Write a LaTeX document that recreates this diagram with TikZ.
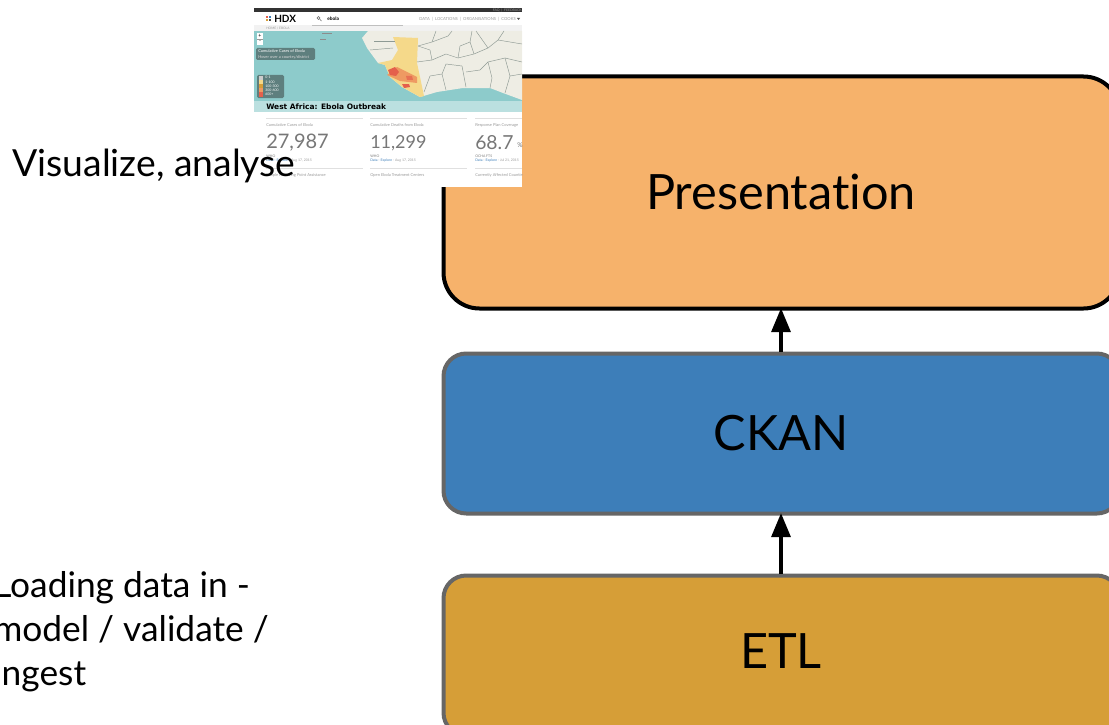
\documentclass[tikz,border=0pt]{standalone}
\usepackage{fontspec}
\setmainfont[Ligatures=NoCommon]{Lato}
\newfontfamily\wideface{DejaVu Sans}
\usetikzlibrary{arrows.meta}
\definecolor{prescol}{HTML}{F6B26B}
\definecolor{ckancol}{HTML}{3D7EB9}
\definecolor{etlcol}{HTML}{D69E37}
\definecolor{edgecol}{HTML}{666666}
\definecolor{seacol}{HTML}{8DCBCB}
\definecolor{stripcol}{HTML}{BBE0E0}
\definecolor{landcol}{HTML}{EEEDE4}
\definecolor{borderc}{HTML}{8E9A94}
\definecolor{yell}{HTML}{F5D98A}
\definecolor{oran}{HTML}{EE9A62}
\definecolor{redd}{HTML}{E4604C}
\definecolor{paneld}{HTML}{5E7F7E}
\definecolor{txtg}{HTML}{999999}
\definecolor{numg}{HTML}{777777}
\tikzset{
  x=0.75pt,y=-0.75pt,
  tierbox/.style={rectangle,draw=edgecol,line width=3pt,minimum width=676*0.75pt,inner sep=0pt,anchor=north west},
  tierlabel/.style={inner sep=0pt,font=\fontsize{36.5}{44}\selectfont},
  flowarrow/.style={draw=black,line width=3pt,-{Triangle[length=18pt,width=14pt]}},
  sidetext/.style={anchor=west,align=left,inner sep=0pt},
  shot/.style={inner sep=0pt,text=txtg,font=\fontsize{3}{3.5}\selectfont},
  bignum/.style={inner sep=0pt,anchor=west,text=numg},
  ruleln/.style={draw=black!12,line width=0.4pt},
  cborder/.style={draw=borderc,line width=0.35pt}
}
\begin{document}
\begin{tikzpicture}
\useasboundingbox (0,0) rectangle (1109,724);
\begin{scope}
\clip (0,0) rectangle (1109,724);
% tiers
\node[tierbox,draw=black,fill=prescol,rounded corners=27pt,minimum height=232*0.75pt] (pres) at (441.5,74.5) {};
\node[tierbox,fill=ckancol,rounded corners=17pt,minimum height=160*0.75pt] (ckan) at (441.5,351.5) {};
\node[tierbox,fill=etlcol,rounded corners=17pt,minimum height=160*0.75pt] (etl) at (441.5,573.5) {};
\node[tierlabel] (prestxt) at (781,192) {Presentation};
\node[tierlabel] (ckantxt) at (781,433) {CKAN};
\node[tierlabel] (etltxt) at (781,651) {ETL};
\coordinate (ckantop) at (781,352);
\coordinate (prestip) at (781,308);
\coordinate (etltop) at (781,574);
\coordinate (ckantip) at (781,513);
\draw[flowarrow] (ckantop) -- (prestip);
\draw[flowarrow] (etltop) -- (ckantip);
% screenshot
\begin{scope}
\clip (254,8) rectangle (522,187);
\fill[white] (254,8) rectangle (522,187);
\fill[black!80] (254,8) rectangle (522,12);
\fill[black!5] (254,25) rectangle (522,31);
\fill[seacol] (254,31) rectangle (522,101);
% land
\fill[landcol] (368,31) -- (362,38) -- (367,48) -- (378,63) -- (385,65) -- (390,77) -- (402,87) -- (420,97) -- (437,92) -- (463,88) -- (490,88) -- (503,93) -- (522,100) -- (522,31) -- cycle;
\fill[black!45] (322,33) rectangle (332,34);
\fill[black!45] (320,39) rectangle (326,40);
% countries coloured
\fill[yell] (393,37) -- (418,38) -- (417,63) -- (420,77) -- (424,96) -- (420,97) -- (402,87) -- (390,77) -- (385,65) -- (378,63) -- (392,60) -- (398,50) -- cycle;
\fill[oran] (387,75) -- (397,67) -- (417,77) -- (417,83) -- (400,81) -- cycle;
\fill[redd] (388,70) -- (395,67) -- (399,72) -- (396,76) -- (390,75) -- cycle;
\fill[redd] (402,84) -- (409,84) -- (410,87) -- (404,88) -- cycle;
\fill[redd!70!oran] (406,76) -- (412,76) -- (413,80) -- (407,80) -- cycle;
% borders
\draw[cborder] (418,46) -- (432,42) -- (448,36) -- (452,31);
\draw[cborder] (417,62) -- (432,60) -- (446,54) -- (458,58) -- (474,54) -- (488,48) -- (498,40) -- (504,31);
\draw[cborder] (424,92) -- (430,76) -- (442,74) -- (446,90);
\draw[cborder] (442,74) -- (446,64) -- (462,66) -- (466,87);
\draw[cborder] (466,72) -- (480,70) -- (488,62) -- (492,78) -- (490,88);
\draw[cborder] (488,62) -- (505,58) -- (522,62);
\draw[cborder] (505,58) -- (510,76) -- (505,93);
\draw[cborder] (474,54) -- (470,42) -- (472,31);
\draw[cborder] (498,40) -- (522,44);
\draw[cborder] (510,76) -- (522,74);
\draw[cborder] (432,60) -- (430,50) -- (418,46);
\draw[cborder] (432,42) -- (436,31);
\draw[cborder] (488,48) -- (476,31);
\draw[cborder] (370,50) -- (393,48);
\draw[cborder] (374,41) -- (395,41);
\draw[cborder] (458,58) -- (460,46) -- (470,42);
% map overlays
\fill[white] (257,33) rectangle (263,45);
\draw[black!40,line width=0.3pt] (257,39) -- (263,39);
\node[shot,text=black,font=\fontsize{4}{4}\selectfont] (plus) at (260,36) {+};
\node[shot,text=black,font=\fontsize{4}{4}\selectfont] (minus) at (260,42) {-};
\fill[paneld,rounded corners=1pt] (256,48) rectangle (315,60);
\node[shot,text=white,anchor=west] (p1) at (258,51.5) {Cumulative Cases of Ebola};
\node[shot,text=white!85!black,anchor=west] (p2) at (258,57) {Hover over a country/district};
\fill[paneld,rounded corners=1pt] (257,75) rectangle (284,98);
\fill[black!20] (259,76) rectangle (263,80);
\fill[yell] (259,80) rectangle (263,84);
\fill[etlcol] (259,84) rectangle (263,88);
\fill[oran] (259,88) rectangle (263,92);
\fill[redd] (259,92) rectangle (263,97);
\node[shot,text=white,anchor=west,font=\fontsize{2.6}{3}\selectfont] (l1) at (265,77.5) {0-1};
\node[shot,text=white,anchor=west,font=\fontsize{2.6}{3}\selectfont] (l2) at (265,82) {1-100};
\node[shot,text=white,anchor=west,font=\fontsize{2.6}{3}\selectfont] (l3) at (265,86) {100-300};
\node[shot,text=white,anchor=west,font=\fontsize{2.6}{3}\selectfont] (l4) at (265,90) {300-600};
\node[shot,text=white,anchor=west,font=\fontsize{2.6}{3}\selectfont] (l5) at (265,94.5) {600+};
% strip
\fill[stripcol] (254,101) rectangle (522,112);
\node[shot,anchor=west,text=black,font=\wideface\fontsize{5.6}{7}\bfseries\selectfont] (title) at (266,106.5) {West Africa: Ebola Outbreak};
% nav
\node[shot,anchor=east,font=\fontsize{2.6}{3}\selectfont] (faq) at (522,10) {FAQ \ | \ FEEDBACK};
\node[shot,anchor=west,text=black,font=\fontsize{7.5}{8}\bfseries\selectfont] (hdx) at (274,18.5) {HDX};
\fill[redd] (266,16) rectangle (268,18);
\fill[ckancol] (269,16) rectangle (271,18);
\fill[etlcol] (266,19) rectangle (268,21);
\fill[black!70] (269,19) rectangle (271,21);
\draw[black!60,line width=0.4pt] (318.5,18) circle (1.6);
\draw[black!60,line width=0.4pt] (319.7,19.2) -- (321.5,21);
\node[shot,anchor=west,text=black,font=\fontsize{3.6}{4}\bfseries\selectfont] (search) at (327,19) {ebola};
\draw[black!25,line width=0.4pt] (312,25.3) -- (403,25.3);
\node[shot,anchor=west,font=\fontsize{3.1}{3.5}\selectfont] (nav) at (419,19) {DATA \ | \ LOCATIONS \ | \ ORGANISATIONS \ | \ COOKS};
\fill[black!70] (517,18) -- (520,18) -- (518.5,20) -- cycle;
\node[shot,anchor=west,font=\fontsize{2.4}{3}\selectfont] (crumb) at (266,28) {HOME / EBOLA};
% cards
\draw[ruleln] (266,118) -- (363,118);
\draw[ruleln] (370,118) -- (467,118);
\draw[ruleln] (475,118) -- (522,118);
\draw[ruleln] (266,168) -- (363,168);
\draw[ruleln] (370,168) -- (467,168);
\draw[ruleln] (475,168) -- (522,168);
\node[shot,anchor=west] (c1) at (266,125) {Cumulative Cases of Ebola};
\node[shot,anchor=west] (c2) at (370,125) {Cumulative Deaths from Ebola};
\node[shot,anchor=west] (c3) at (475,125) {Response Plan Coverage};
\node[bignum,font=\fontsize{15}{15}\selectfont] (n1) at (266,143) {27,987};
\node[bignum,font=\fontsize{13.5}{15}\selectfont] (n2) at (370,143) {11,299};
\node[bignum,font=\fontsize{14.5}{15}\selectfont] (n3) at (475,143) {68.7};
\node[shot,anchor=west,text=numg,font=\fontsize{5}{5}\selectfont] (pct) at (517,145) {\%};
\node[shot,anchor=west,text=numg,font=\fontsize{2.6}{3}\selectfont] (w1) at (266,156) {WHO};
\node[shot,anchor=west,text=numg,font=\fontsize{2.6}{3}\selectfont] (w2) at (370,156) {WHO};
\node[shot,anchor=west,text=numg,font=\fontsize{2.6}{3}\selectfont] (w3) at (475,156) {OCHA FTS};
\node[shot,anchor=west,font=\fontsize{2.6}{3}\selectfont] (d1) at (266,160.5) {\textcolor{ckancol}{Data - Explore} - Aug 17, 2015};
\node[shot,anchor=west,font=\fontsize{2.6}{3}\selectfont] (d2) at (370,160.5) {\textcolor{ckancol}{Data - Explore} - Aug 17, 2015};
\node[shot,anchor=west,font=\fontsize{2.6}{3}\selectfont] (d3) at (475,160.5) {\textcolor{ckancol}{Data - Explore} - Jul 21, 2015};
\node[shot,anchor=west] (e1) at (266,175) {People Receiving Point Assistance};
\node[shot,anchor=west] (e2) at (370,175) {Open Ebola Treatment Centers};
\node[shot,anchor=west] (e3) at (475,175) {Currently Affected Counties};
\end{scope}
% side texts
\node[sidetext,font=\fontsize{28}{33}\selectfont] (vis) at (12,165.5) {Visualize, analyse};
\node[sidetext,font=\fontsize{26.5}{33}\selectfont] (load) at (-7,632) {Loading data in -\\model / validate /\\ingest};
\end{scope}
\end{tikzpicture}
\end{document}
